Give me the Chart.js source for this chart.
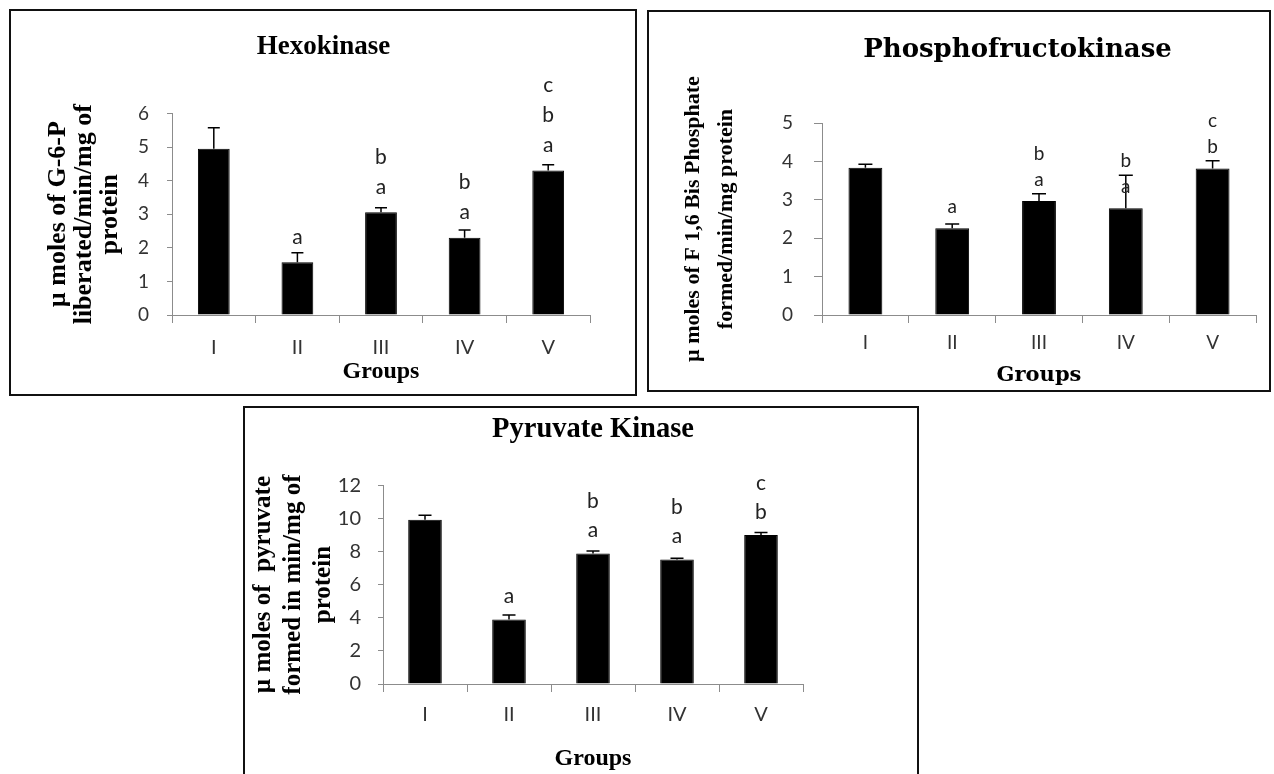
<!DOCTYPE html>
<html>
<head>
<meta charset="utf-8">
<script src="https://cdn.jsdelivr.net/npm/chart.js@4.4.1/dist/chart.umd.min.js"></script>
<style>
body { margin: 0; background: #fff; width: 1274px; height: 774px; overflow: hidden; position: relative; }
.box { position: absolute; border: 2px solid #111; box-sizing: border-box; }
.box canvas { display: block; }
</style>
</head>
<body>
<div class="box" style="left:9px;top:9px;width:628px;height:387px"><canvas id="hex" width="624" height="383"></canvas></div>
<div class="box" style="left:647px;top:10px;width:624px;height:382px"><canvas id="pfk" width="620" height="378"></canvas></div>
<div class="box" style="left:243px;top:406px;width:676px;height:390px"><canvas id="pk" width="672" height="386"></canvas></div>
<script>
var groups = ['I', 'II', 'III', 'IV', 'V'];

// Hexokinase
var hexMeans = [4.95, 1.57, 3.06, 2.30, 4.30];
var hexErr = [0.62, 0.28, 0.13, 0.23, 0.17];
var hexLetters = ['', 'a', 'ab', 'ab', 'abc'];
var hexTicks = {max: 6, step: 1};

// Phosphofructokinase
var pfkMeans = [3.84, 2.26, 2.97, 2.78, 3.82];
var pfkErr = [0.09, 0.11, 0.19, 0.86, 0.20];
var pfkLetters = ['', 'a', 'ab', 'ab', 'bc'];
var pfkTicks = {max: 5, step: 1};

// Pyruvate kinase
var pkMeans = [9.92, 3.90, 7.87, 7.51, 8.99];
var pkErr = [0.26, 0.26, 0.16, 0.08, 0.15];
var pkLetters = ['', 'a', 'ab', 'ab', 'bc'];
var pkTicks = {max: 12, step: 2};

var AXIS = '#8c8c8c';
var TICK = '#333';

// error bars + significance letters above each bar
function marks(means, errs, letters, st) {
    return {
        id: 'marks',
        afterDatasetsDraw: function(chart) {
            var ctx = chart.ctx;
            var y = chart.scales.y;
            var bars = chart.getDatasetMeta(0).data;
            ctx.save();
            bars.forEach(function(bar, i) {
                var base = y.getPixelForValue(means[i]);
                var top = y.getPixelForValue(means[i] + errs[i]);
                ctx.strokeStyle = '#000';
                ctx.lineWidth = 1.5;
                ctx.beginPath();
                ctx.moveTo(bar.x, base);
                ctx.lineTo(bar.x, top);
                ctx.moveTo(bar.x - st.cap / 2, top);
                ctx.lineTo(bar.x + st.cap / 2, top);
                ctx.stroke();
                ctx.fillStyle = '#222';
                ctx.font = st.size + 'px Lato';
                ctx.textAlign = 'center';
                ctx.textBaseline = 'middle';
                for (var k = 0; k < letters[i].length; k++) {
                    ctx.fillText(letters[i][k], bar.x, base - st.gap - k * st.step);
                }
            });
            ctx.restore();
        }
    };
}

function panel(id, means, errs, letters, ticks, p) {
    new Chart(document.getElementById(id), {
        type: 'bar',
        data: {
            labels: groups,
            datasets: [{
                data: means,
                backgroundColor: '#000',
                borderColor: '#000',
                borderWidth: 1,
                barPercentage: p.barPct,
                categoryPercentage: 1
            }]
        },
        options: {
            responsive: false,
            animation: false,
            layout: {padding: {left: p.padLeft, right: p.padRight, top: 0, bottom: 0}},
            plugins: {
                legend: {display: false},
                tooltip: {enabled: false},
                title: {
                    display: true,
                    text: p.title,
                    color: '#000',
                    fullSize: p.titleFull,
                    font: {family: p.titleFont, size: p.titleSize, weight: 'bold', lineHeight: 1.2},
                    padding: {top: p.titleTop, bottom: p.titleBottom}
                }
            },
            scales: {
                x: {
                    grid: {offset: true, drawOnChartArea: false, tickLength: 8, color: AXIS},
                    border: {color: AXIS},
                    ticks: {color: TICK, font: {family: 'Lato', size: p.xTickSize}, padding: p.xTickPad},
                    title: {
                        display: true, text: 'Groups', color: '#000',
                        font: {family: p.groupsFont, size: p.groupsSize, weight: 'bold', lineHeight: 1.2},
                        padding: {top: 0, bottom: p.groupsPad}
                    },
                    afterFit: function(s) { s.height = p.xHeight; }
                },
                y: {
                    min: 0,
                    max: ticks.max,
                    grid: {drawOnChartArea: false, tickLength: p.yTickLen, color: AXIS},
                    border: {color: AXIS},
                    ticks: {stepSize: ticks.step, color: TICK, font: {family: 'Lato', size: p.yTickSize}, padding: p.yTickPad},
                    title: {
                        display: true, text: p.yTitle, color: '#000',
                        font: {family: 'Liberation Serif', size: p.yTitleSize, weight: 'bold', lineHeight: p.yTitleLh},
                        padding: {top: p.yTitlePad, bottom: 0}
                    },
                    afterFit: function(s) { s.width = p.yWidth; }
                }
            }
        },
        plugins: [marks(means, errs, letters, p.letters)]
    });
}

panel('hex', hexMeans, hexErr, hexLetters, hexTicks, {
    title: 'Hexokinase', titleFont: 'Liberation Serif', titleSize: 27, titleTop: 20, titleBottom: 50, titleFull: true,
    padLeft: 46, padRight: 45, yWidth: 115, xHeight: 79,
    yTitle: ['\u00b5 moles of G-6-P', 'liberated/min/mg of', 'protein'], yTitleSize: 26, yTitleLh: 1.0, yTitlePad: -12,
    yTickSize: 19, yTickLen: 5, yTickPad: 18, xTickSize: 20, xTickPad: 13,
    groupsFont: 'Liberation Serif', groupsSize: 24, groupsPad: 8,
    barPct: 0.38, letters: {size: 21, gap: 25, step: 30, cap: 12}
});

panel('pfk', pfkMeans, pfkErr, pfkLetters, pfkTicks, {
    title: 'Phosphofructokinase', titleFont: 'DejaVu Serif', titleSize: 26, titleTop: 23, titleBottom: 57, titleFull: true,
    padLeft: 130, padRight: 13, yWidth: 43, xHeight: 75,
    yTitle: ['\u00b5 moles of F 1,6 Bis Phosphate', 'formed/min/mg protein'], yTitleSize: 22, yTitleLh: 1.5, yTitlePad: -102,
    yTickSize: 19, yTickLen: 8, yTickPad: 21, xTickSize: 19, xTickPad: 8,
    groupsFont: 'DejaVu Serif', groupsSize: 21, groupsPad: 2,
    barPct: 0.39, letters: {size: 19, gap: 21.5, step: 26, cap: 14}
});

panel('pk', pkMeans, pkErr, pkLetters, pkTicks, {
    title: 'Pyruvate Kinase', titleFont: 'Liberation Serif', titleSize: 28.5, titleTop: 5, titleBottom: 38, titleFull: false,
    padLeft: 80, padRight: 114, yWidth: 58, xHeight: 110,
    yTitle: ['\u00b5 moles of  pyruvate', 'formed in min/mg of', 'protein'], yTitleSize: 25, yTitleLh: 1.2, yTitlePad: -76,
    yTickSize: 20, yTickLen: 5, yTickPad: 17, xTickSize: 20, xTickPad: 11,
    groupsFont: 'Liberation Serif', groupsSize: 24, groupsPad: 21,
    barPct: 0.40, letters: {size: 21, gap: 23, step: 29, cap: 13}
});
</script>
</body>
</html>
